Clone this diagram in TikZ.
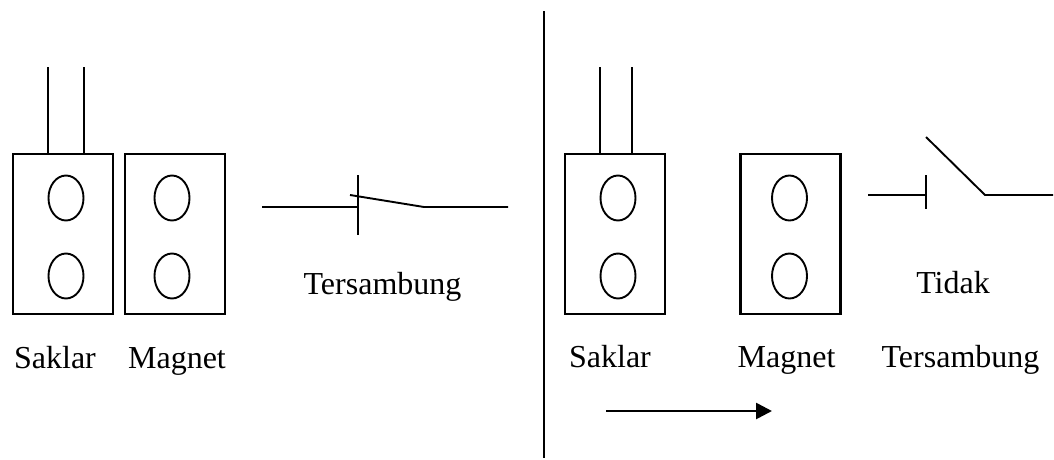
\documentclass[tikz,border=0pt]{standalone}
\usepackage{fontspec}
\setmainfont{Liberation Serif}
\usetikzlibrary{shapes.geometric,arrows.meta}
\begin{document}
\begin{tikzpicture}[
		x=1pt, y=-1pt,
		line width=1.9pt,
		body/.style={draw, rectangle, line width=2.4pt, minimum width=100pt, minimum height=160pt, inner sep=0pt, outer sep=0pt},
		hole/.style={draw, ellipse, minimum width=35pt, minimum height=45pt, inner sep=0pt, outer sep=0pt},
		caption/.style={anchor=base, inner sep=0pt, font=\fontsize{32}{38}\selectfont}
	]
	\useasboundingbox (0,0) rectangle (1054,459);
	% divider
	\coordinate (divTop) at (544,11);
	\coordinate (divBot) at (544,458);
	\draw (divTop) -- (divBot);
	% left side
	\node[body] (saklarL) at (63,234) {};
	\node[body] (magnetL) at (175,234) {};
	\node[hole] (saklarLa) at (66,198) {};
	\node[hole] (saklarLb) at (66,276) {};
	\node[hole] (magnetLa) at (172,198) {};
	\node[hole] (magnetLb) at (172,276) {};
	\coordinate (wireLa) at (48,67);
	\coordinate (wireLb) at (84,67);
	\draw (wireLa) -- (wireLa |- saklarL.north);
	\draw (wireLb) -- (wireLb |- saklarL.north);
	\coordinate (inL) at (262,207);
	\coordinate (contactL) at (358,207);
	\coordinate (barLa) at (358,175);
	\coordinate (barLb) at (358,235);
	\coordinate (leverL) at (350,195);
	\coordinate (pivotL) at (424,207);
	\coordinate (outL) at (508,207);
	\draw (inL) -- (contactL);
	\draw (barLa) -- (barLb);
	\draw (leverL) -- (pivotL) -- (outL);
	\node[caption] (labelSaklarL) at (55,368) {Saklar};
	\node[caption] (labelMagnetL) at (177,368) {Magnet};
	\node[caption] (labelOn) at (382.5,294) {Tersambung};
	% right side
	\node[body] (saklarR) at (615,234) {};
	\node[body] (magnetR) at (790.5,234) {};
	\node[hole] (saklarRa) at (618,198) {};
	\node[hole] (saklarRb) at (618,276) {};
	\node[hole] (magnetRa) at (789.5,198) {};
	\node[hole] (magnetRb) at (789.5,276) {};
	\coordinate (wireRa) at (600,67);
	\coordinate (wireRb) at (632,67);
	\draw (wireRa) -- (wireRa |- saklarR.north);
	\draw (wireRb) -- (wireRb |- saklarR.north);
	\coordinate (inR) at (868,195);
	\coordinate (contactR) at (926,195);
	\coordinate (barRa) at (926,175);
	\coordinate (barRb) at (926,209);
	\coordinate (leverR) at (926,137);
	\coordinate (pivotR) at (985,195);
	\coordinate (outR) at (1053,195);
	\draw (inR) -- (contactR);
	\draw (barRa) -- (barRb);
	\draw (leverR) -- (pivotR) -- (outR);
	\node[caption] (labelSaklarR) at (610,367) {Saklar};
	\node[caption] (labelMagnetR) at (786.5,367) {Magnet};
	\node[caption] (labelTidak) at (953,293) {Tidak};
	\node[caption] (labelOff) at (960.5,367) {Tersambung};
	% arrow
	\coordinate (moveA) at (606,411);
	\coordinate (moveB) at (772,411);
	\draw[line width=2.6pt, -{Triangle[length=16pt,width=16pt]}] (moveA) -- (moveB);
\end{tikzpicture}
\end{document}
